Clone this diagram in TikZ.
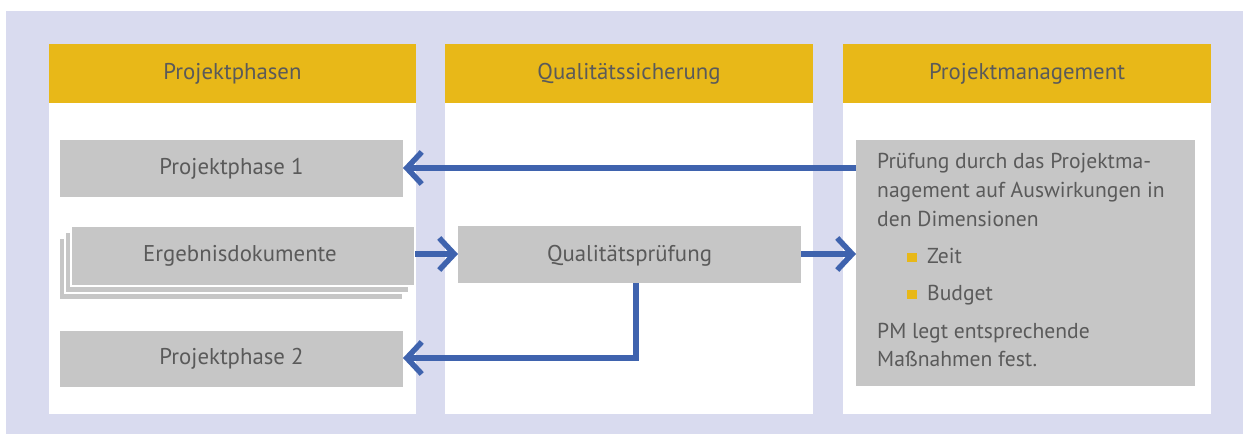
\documentclass[tikz,border=0pt]{standalone}
\usepackage{fontspec}
\setmainfont{PT Sans}
\usetikzlibrary{arrows.meta}
\definecolor{bgl}{HTML}{D9DBEF}
\definecolor{hdr}{HTML}{E8B818}
\definecolor{boxg}{HTML}{C6C6C6}
\definecolor{txtg}{HTML}{5A5A5A}
\definecolor{arr}{HTML}{3F63AE}
\tikzset{
  hdrbox/.style={fill=hdr, draw=none},
  gbox/.style={fill=boxg, draw=none},
  sbox/.style={fill=boxg, draw=white, line width=1.5pt},
  lbl/.style={text=txtg, font=\fontsize{22.8}{27}\selectfont},
  ptxt/.style={text=txtg, font=\fontsize{21.6}{26}\selectfont, anchor=base west, inner sep=0pt},
  conn/.style={draw=arr, line width=5.5pt, -{Straight Barb[length=15pt,width=32pt]}},
  bul/.style={fill=hdr, draw=none}
}
\begin{document}
\begin{tikzpicture}[x=1pt,y=-1pt]
\useasboundingbox (0,0) rectangle (1243,434);
\fill[bgl] (6,11) rectangle (1243,434);
% columns
\foreach \xa/\xb in {49/416, 445/813, 843/1211} {
  \fill[white] (\xa,103) rectangle (\xb,414);
  \path[hdrbox] (\xa,44) rectangle (\xb,103);
}
\node[lbl] (h1) at (232.5,73.5) {Projektphasen};
\node[lbl] (h2) at (629,73.5) {Qualitätssicherung};
\node[lbl] (h3) at (1027,73.5) {Projektmanagement};
% boxes
\path[gbox] (60,140) rectangle (403,197);
\node[lbl] (pp1) at (231.5,168.5) {Projektphase 1};
\coordinate (pp1e) at (403,168);
\path[sbox] (59,238) rectangle (403,300);
\path[sbox] (65,232) rectangle (409,293);
\path[sbox] (71,226) rectangle (415,286);
\node[lbl] (erg) at (240,256) {Ergebnisdokumente};
\coordinate (erge) at (415,254);
\path[gbox] (458,226) rectangle (801,283);
\node[lbl] (qp) at (629.5,256) {Qualitätsprüfung};
\coordinate (qpw) at (458,254);
\coordinate (qpe) at (801,254);
\coordinate (qps) at (636,283);
\path[gbox] (60,331) rectangle (403,387);
\node[lbl] (pp2) at (231.5,359) {Projektphase 2};
\coordinate (pp2e) at (403,358);
\path[gbox] (856,140) rectangle (1195,386);
\coordinate (pmw1) at (856,168);
\coordinate (pmw2) at (856,254);
\node[ptxt] (t1) at (877,168) {Prüfung durch das Projektma-};
\node[ptxt] (t2) at (877,197) {nagement auf Auswirkungen in};
\node[ptxt] (t3) at (877,226) {den Dimensionen};
\path[bul] (907,253) rectangle (917,262);
\node[ptxt] (t4) at (927,263) {Zeit};
\path[bul] (907,290) rectangle (917,299);
\node[ptxt] (t5) at (927,300) {Budget};
\node[ptxt] (t6) at (877,338) {PM legt entsprechende};
\node[ptxt] (t7) at (877,366) {Maßnahmen fest.};
% connectors
\draw[conn] (pmw1) -- (pp1e);
\draw[conn] (erge) -- (qpw);
\draw[conn] (qpe) -- (pmw2);
\draw[conn] (qps) |- (pp2e);
\end{tikzpicture}
\end{document}
